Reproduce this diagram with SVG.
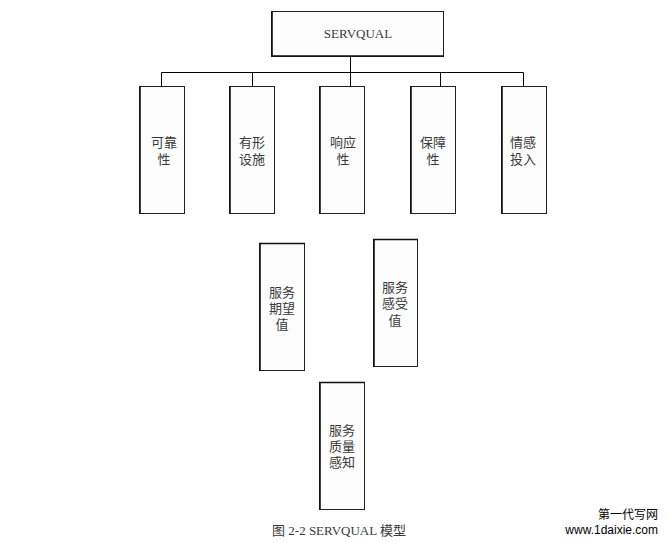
<svg xmlns="http://www.w3.org/2000/svg" width="668" height="543" viewBox="0 0 668 543">
<style>
.box{fill:#fdfdfd;stroke:#222;stroke-width:1}
.edge{stroke:#111;stroke-width:1.6}
.t{font-family:"Liberation Serif","Noto Sans CJK SC",serif;font-size:13px;fill:#3a3a3a;text-anchor:middle}
.c{stroke:#000;stroke-width:1;fill:none}
</style>
<rect width="668" height="543" fill="#fff"/>
<g id="connectors">
<path class="c" d="M350.5 57V72.5M161.5 72.5H523.5M161.5 72.5V86M252.5 72.5V86M350.5 72.5V86M440.5 72.5V86M523.5 72.5V86"/>
</g>
<g id="servqual">
<rect class="box" x="271.5" y="11.5" width="172" height="45"/>
<path class="edge" d="M272 11V57M271 56H444"/>
<text class="t" x="358" y="38" font-size="12">SERVQUAL</text>
</g>
<g id="reliability">
<rect class="box" x="139.5" y="86.5" width="45" height="127"/>
<path class="edge" d="M140 86V214"/>
<text class="t" x="164" y="147">可靠</text><text class="t" x="164" y="164">性</text>
</g>
<g id="tangibles">
<rect class="box" x="229.5" y="86.5" width="45" height="127"/>
<path class="edge" d="M230 86V214"/>
<text class="t" x="252" y="147">有形</text><text class="t" x="252" y="164">设施</text>
</g>
<g id="responsiveness">
<rect class="box" x="319.5" y="86.5" width="45" height="127"/>
<path class="edge" d="M320 86V214"/>
<text class="t" x="343" y="147">响应</text><text class="t" x="343" y="164">性</text>
</g>
<g id="assurance">
<rect class="box" x="410.5" y="86.5" width="45" height="127"/>
<path class="edge" d="M411 86V214"/>
<text class="t" x="433" y="147">保障</text><text class="t" x="433" y="164">性</text>
</g>
<g id="empathy">
<rect class="box" x="501.5" y="86.5" width="45" height="127"/>
<path class="edge" d="M502 86V214"/>
<text class="t" x="523" y="147">情感</text><text class="t" x="523" y="164">投入</text>
</g>
<g id="expected">
<rect class="box" x="259.5" y="243.5" width="45" height="127"/>
<path class="edge" d="M260 243V371M259 243.5H305"/>
<text class="t" x="282" y="297">服务</text><text class="t" x="282" y="313">期望</text><text class="t" x="282" y="329">值</text>
</g>
<g id="perceived">
<rect class="box" x="373.5" y="239.5" width="44" height="127"/>
<path class="edge" d="M374 239V367M373 239.5H418"/>
<text class="t" x="395" y="292">服务</text><text class="t" x="395" y="308">感受</text><text class="t" x="395" y="325">值</text>
</g>
<g id="quality">
<rect class="box" x="319.5" y="382.5" width="45" height="127"/>
<path class="edge" d="M320 382V510M319 382.5H365"/>
<text class="t" x="342" y="435">服务</text><text class="t" x="342" y="451">质量</text><text class="t" x="342" y="467">感知</text>
</g>
<text class="t" x="339" y="535" font-size="13" fill="#000">图 2-2 SERVQUAL 模型</text>
<text x="658" y="519" font-family="'Liberation Sans','Noto Sans CJK SC',sans-serif" font-size="12" text-anchor="end" fill="#000">第一代写网</text>
<text x="658" y="534" font-family="'Liberation Sans','Noto Sans CJK SC',sans-serif" font-size="12" text-anchor="end" fill="#000">www.1daixie.com</text>
</svg>
